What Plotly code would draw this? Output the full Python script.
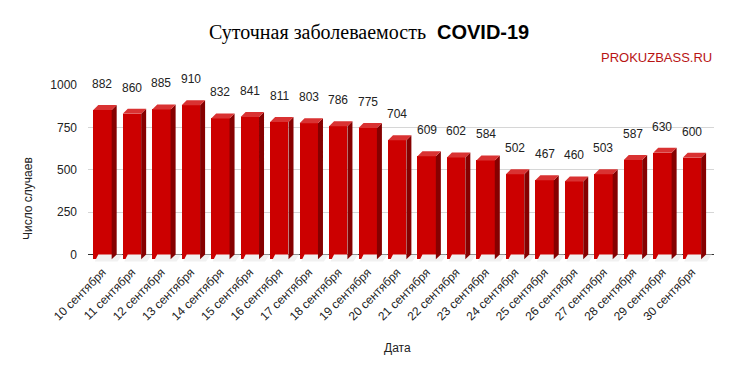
import plotly.graph_objects as go

dates = ["10 сентября", "11 сентября", "12 сентября", "13 сентября", "14 сентября",
         "15 сентября", "16 сентября", "17 сентября", "18 сентября", "19 сентября",
         "20 сентября", "21 сентября", "22 сентября", "23 сентября", "24 сентября",
         "25 сентября", "26 сентября", "27 сентября", "28 сентября", "29 сентября",
         "30 сентября"]
cases = [882, 860, 885, 910, 832, 841, 811, 803, 786, 775, 704, 609, 602, 584,
         502, 467, 460, 503, 587, 630, 600]
y_ticks = [0, 250, 500, 750, 1000]

# 3D look parameters (depth in axis units)
SX = 0.17   # horizontal depth (category units)
D = 29.5    # vertical depth (value units)
W = 0.624   # front face width

idx = list(range(len(cases)))
front_x = [i - SX for i in idx]

side_x, side_y, top_x, top_y, sh_x, sh_y = [], [], [], [], [], []
for i, v in zip(idx, cases):
    xl = i - SX - W / 2
    xr = i - SX + W / 2
    side_x += [xr, xr + SX, xr + SX, xr, xr, None]
    side_y += [-D, 0, v, v - D, -D, None]
    top_x += [xl, xr, xr + SX, xl + SX, xl, None]
    top_y += [v - D, v - D, v, v, v - D, None]
    sh_x += [xl + 0.05, xr + 0.2, xr + SX + 0.2, xl + SX, xl + 0.05, None]
    sh_y += [-D - 12, -D - 12, 0, 0, -D - 12, None]

FONT = "Liberation Sans, Arial, sans-serif"
SERIF = "Liberation Serif, Times New Roman, Tinos, DejaVu Serif, serif"

fig = go.Figure()
fig.add_trace(go.Scatter(x=sh_x, y=sh_y, mode="lines", fill="toself",
                         fillcolor="#f1f1f1", line=dict(width=0), hoverinfo="skip"))
fig.add_trace(go.Bar(x=front_x, y=cases, base=-D, width=W,
                     marker=dict(color="#cc0000", line=dict(width=0))))
fig.add_trace(go.Scatter(x=side_x, y=side_y, mode="lines", fill="toself",
                         fillcolor="#860000", line=dict(width=0), hoverinfo="skip"))
fig.add_trace(go.Scatter(x=top_x, y=top_y, mode="lines", fill="toself",
                         fillcolor="#d93232", line=dict(width=0), hoverinfo="skip"))

annotations = []
for i, v in zip(idx, cases):
    annotations.append(dict(x=i - SX, y=v, xref="x", yref="y", text=str(v),
                            showarrow=False, yanchor="bottom", yshift=12,
                            font=dict(size=12, color="#222222", family=FONT)))
annotations.append(dict(x=0.543, y=1.299, xref="paper", yref="paper",
                        text="Суточная заболеваемость", showarrow=False,
                        xanchor="right", yanchor="middle",
                        font=dict(size=20, color="#000000", family=SERIF)))
annotations.append(dict(x=0.555, y=1.299, xref="paper", yref="paper",
                        text="<b>COVID-19</b>", showarrow=False,
                        xanchor="left", yanchor="middle",
                        font=dict(size=20, color="#000000", family=FONT)))
annotations.append(dict(x=1, y=1.155, xref="paper", yref="paper", text="PROKUZBASS.RU",
                        showarrow=False, xanchor="right", yanchor="middle",
                        font=dict(size=13, color="#b81414", family=FONT)))
annotations.append(dict(x=-0.0958, y=0.356, xref="paper", yref="paper", text="Число случаев",
                        showarrow=False, textangle=-90, xanchor="center", yanchor="middle",
                        font=dict(size=12, color="#222222", family=FONT)))
annotations.append(dict(x=0.495, y=-0.486, xref="paper", yref="paper", text="Дата",
                        showarrow=False, xanchor="center", yanchor="middle",
                        font=dict(size=12, color="#222222", family=FONT)))

fig.update_layout(
    width=733, height=374,
    margin=dict(l=88, r=19, t=85, b=112),
    paper_bgcolor="white", plot_bgcolor="white",
    showlegend=False,
    bargap=0,
    xaxis=dict(range=[-0.661, 20.58], tickvals=front_x, ticktext=dates,
               tickangle=-45, showgrid=False, zeroline=False, showline=False,
               automargin=False, ticks="",
               tickfont=dict(size=12, color="#222222", family=FONT)),
    yaxis=dict(range=[-45, 1000], tickvals=y_ticks, showgrid=True,
               gridcolor="#d6d6d6", gridwidth=1, zeroline=True,
               zerolinecolor="#333333", zerolinewidth=1, showline=False,
               automargin=False, ticks="", ticklabelstandoff=10,
               tickfont=dict(size=12, color="#222222", family=FONT)),
    annotations=annotations,
)

fig.write_html("out.html", config={"displayModeBar": False},
               post_script="document.body.style.margin='0';")
